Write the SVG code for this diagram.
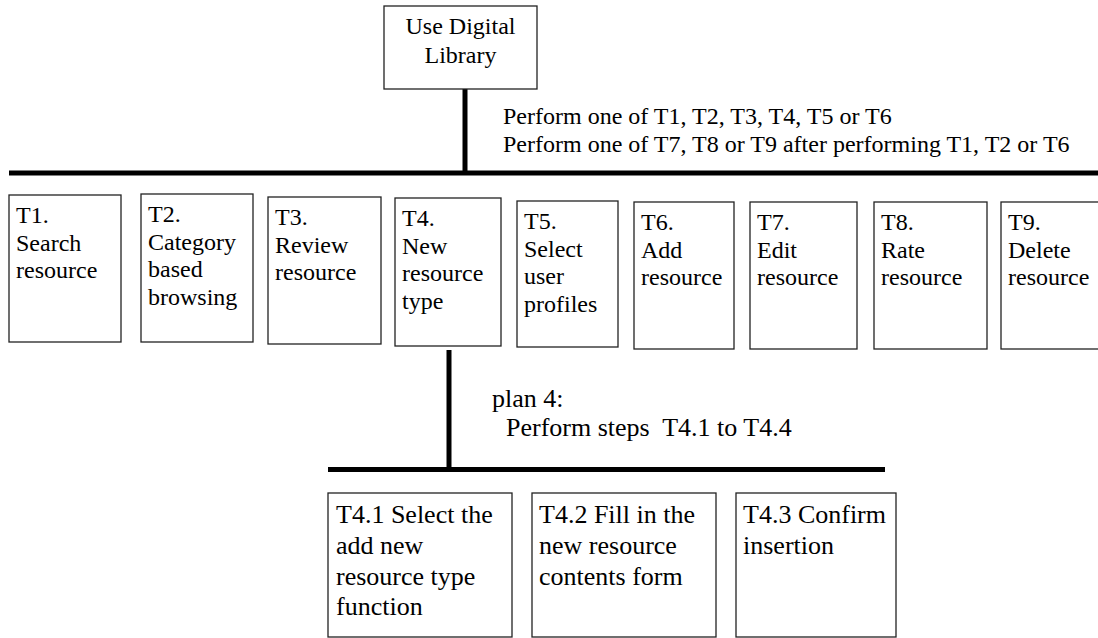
<svg xmlns="http://www.w3.org/2000/svg" width="1098" height="638" viewBox="0 0 1098 638">
<style>
.box{fill:#fff;stroke:#222;stroke-width:1.3}
.t{font-family:"Liberation Serif","Times New Roman",serif;font-size:24px;fill:#000}
.tl{font-family:"Liberation Serif","Times New Roman",serif;font-size:26px;fill:#000}
.bar{stroke:#000;stroke-width:5;fill:none}
</style>
<rect width="1098" height="638" fill="#fff"/>
<g id="connectors">
<line class="bar" x1="465" y1="89" x2="465" y2="173"/>
<line class="bar" x1="9" y1="173" x2="1098" y2="173"/>
<line class="bar" x1="449" y1="350" x2="449" y2="470"/>
<line class="bar" x1="328" y1="469.5" x2="885" y2="469.5"/>
</g>
<g id="plan0">
<text class="t" x="503" y="124">Perform one of T1, T2, T3, T4, T5 or T6</text>
<text class="t" x="503" y="152">Perform one of T7, T8 or T9 after performing T1, T2 or T6</text>
</g>
<g id="plan4">
<text class="tl" x="492" y="407">plan 4:</text>
<text class="tl" x="506" y="436" xml:space="preserve">Perform steps  T4.1 to T4.4</text>
</g>
<g id="root">
<rect class="box" x="384" y="6" width="153" height="83"/>
<text class="t" x="460.5" y="34" text-anchor="middle">Use Digital</text>
<text class="t" x="460.5" y="63" text-anchor="middle">Library</text>
</g>
<g id="T1">
<rect class="box" x="9" y="195" width="112" height="147"/>
<text class="t" x="16" y="223">T1.</text>
<text class="t" x="16" y="251">Search</text>
<text class="t" x="16" y="278">resource</text>
</g>
<g id="T2">
<rect class="box" x="141" y="194" width="112" height="148"/>
<text class="t" x="148" y="222">T2.</text>
<text class="t" x="148" y="250">Category</text>
<text class="t" x="148" y="277">based</text>
<text class="t" x="148" y="305">browsing</text>
</g>
<g id="T3">
<rect class="box" x="268" y="197" width="113" height="147"/>
<text class="t" x="275" y="225">T3.</text>
<text class="t" x="275" y="253">Review</text>
<text class="t" x="275" y="280">resource</text>
</g>
<g id="T4">
<rect class="box" x="395" y="198" width="106" height="148"/>
<text class="t" x="402" y="226">T4.</text>
<text class="t" x="402" y="254">New</text>
<text class="t" x="402" y="281">resource</text>
<text class="t" x="402" y="309">type</text>
</g>
<g id="T5">
<rect class="box" x="517" y="201" width="101" height="146"/>
<text class="t" x="524" y="229">T5.</text>
<text class="t" x="524" y="257">Select</text>
<text class="t" x="524" y="284">user</text>
<text class="t" x="524" y="312">profiles</text>
</g>
<g id="T6">
<rect class="box" x="634" y="202" width="100" height="147"/>
<text class="t" x="641" y="230">T6.</text>
<text class="t" x="641" y="258">Add</text>
<text class="t" x="641" y="285">resource</text>
</g>
<g id="T7">
<rect class="box" x="750" y="202" width="107" height="147"/>
<text class="t" x="757" y="230">T7.</text>
<text class="t" x="757" y="258">Edit</text>
<text class="t" x="757" y="285">resource</text>
</g>
<g id="T8">
<rect class="box" x="874" y="202" width="113" height="147"/>
<text class="t" x="881" y="230">T8.</text>
<text class="t" x="881" y="258">Rate</text>
<text class="t" x="881" y="285">resource</text>
</g>
<g id="T9">
<rect class="box" x="1001" y="202" width="100" height="147"/>
<text class="t" x="1008" y="230">T9.</text>
<text class="t" x="1008" y="258">Delete</text>
<text class="t" x="1008" y="285">resource</text>
</g>
<g id="T4.1">
<rect class="box" x="328" y="493" width="184" height="144"/>
<text class="tl" x="336" y="523">T4.1 Select the</text>
<text class="tl" x="336" y="554">add new</text>
<text class="tl" x="336" y="585">resource type</text>
<text class="tl" x="336" y="615">function</text>
</g>
<g id="T4.2">
<rect class="box" x="532" y="493" width="184" height="144"/>
<text class="tl" x="539" y="523">T4.2 Fill in the</text>
<text class="tl" x="539" y="554">new resource</text>
<text class="tl" x="539" y="585">contents form</text>
</g>
<g id="T4.3">
<rect class="box" x="736" y="493" width="160" height="144"/>
<text class="tl" x="743" y="523">T4.3 Confirm</text>
<text class="tl" x="743" y="554">insertion</text>
</g>
</svg>
